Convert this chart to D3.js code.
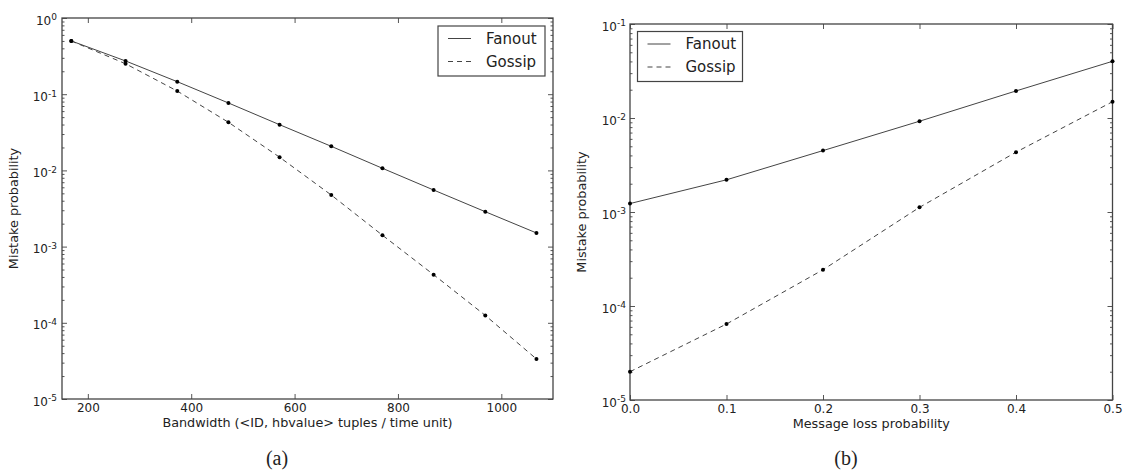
<!DOCTYPE html>
<html>
<head>
<meta charset="utf-8">
<script src="https://cdn.jsdelivr.net/npm/d3@7"></script>
<style>
  body { margin: 0; background: #fff; }
  text { font-family: "DejaVu Sans", sans-serif; fill: #222; }
  .domain { stroke: #444; }
  .tick line { stroke: #555; }
</style>
</head>
<body>
<div id="graph"></div>
<script>
// panel (a): bandwidth vs mistake probability
const bandwidth = [168, 273, 373, 472, 571, 671, 770, 869, 969, 1068];
const fanoutA = [0.5, 0.273, 0.146, 0.0767, 0.0398, 0.0207, 0.01066, 0.00553, 0.00287, 0.00151];
const gossipA = [0.5, 0.251, 0.110, 0.0428, 0.0149, 0.00475, 0.00141, 0.000428, 0.000125, 0.0000335];
const xTicksA = [200, 400, 600, 800, 1000];

// panel (b): message loss vs mistake probability
const lossProb = [0.0, 0.1, 0.2, 0.3, 0.4, 0.5];
const fanoutB = [0.00123, 0.0022, 0.0045, 0.00924, 0.0194, 0.0401];
const gossipB = [0.00002, 0.0000643, 0.000243, 0.00112, 0.00433, 0.0149];
const xTicksB = [0.0, 0.1, 0.2, 0.3, 0.4, 0.5];

const seriesNames = ["Fanout", "Gossip"];

let width = 1123, height = 475;
let svg = d3.select("#graph").append("svg").attr("width", width).attr("height", height);

function drawPanel(cfg) {
  let x = d3.scaleLinear().domain(cfg.xDomain).range([cfg.left, cfg.right]);
  let y = d3.scaleLog().domain(cfg.yDomain).range([cfg.bottom, cfg.top]);
  let g = svg.append("g");

  // minor log ticks
  let lo = Math.round(Math.log10(cfg.yDomain[0])), hi = Math.round(Math.log10(cfg.yDomain[1]));
  let major = d3.range(lo, hi + 1).map(e => Math.pow(10, e));
  let minor = [];
  d3.range(lo, hi).forEach(e => { for (let m = 2; m < 10; m++) minor.push(m * Math.pow(10, e)); });

  g.append("g").attr("transform", "translate(" + cfg.left + ",0)")
    .call(d3.axisLeft(y).tickValues(minor).tickSize(-2.5).tickFormat(""))
    .call(s => s.select(".domain").remove());
  g.append("g").attr("transform", "translate(" + cfg.right + ",0)")
    .call(d3.axisRight(y).tickValues(minor).tickSize(-2.5).tickFormat(""))
    .call(s => s.select(".domain").remove());
  g.append("g").attr("transform", "translate(" + cfg.right + ",0)")
    .call(d3.axisRight(y).tickValues(major).tickSize(-5).tickFormat(""))
    .call(s => s.select(".domain").remove());

  let yAx = g.append("g").attr("transform", "translate(" + cfg.left + ",0)")
    .call(d3.axisLeft(y).tickValues(major).tickSize(-5).tickPadding(cfg.yPad).tickFormat(""));
  yAx.select(".domain").remove();
  yAx.selectAll(".tick").each(function(d) {
    let e = Math.round(Math.log10(d));
    let t = d3.select(this).select("text").attr("font-size", 12).attr("dy", "0.5em");
    t.append("tspan").text("10");
    t.append("tspan").attr("dy", "-0.45em").attr("font-size", 9).text(e === 0 ? "0" : "-" + Math.abs(e));
  });

  // x axes
  let xAx = g.append("g").attr("transform", "translate(0," + cfg.bottom + ")")
    .call(d3.axisBottom(x).tickValues(cfg.xTicks).tickSize(-5).tickPadding(4).tickFormat(cfg.xFormat));
  xAx.select(".domain").remove();
  xAx.selectAll("text").attr("font-size", 12);
  g.append("g").attr("transform", "translate(0," + cfg.top + ")")
    .call(d3.axisTop(x).tickValues(cfg.xTicks).tickSize(-5).tickFormat(""))
    .call(s => s.select(".domain").remove());

  // frame
  g.append("rect").attr("x", cfg.left).attr("y", cfg.top)
    .attr("width", cfg.right - cfg.left).attr("height", cfg.bottom - cfg.top)
    .attr("fill", "none").attr("stroke", "#444").attr("stroke-width", 1.3);

  // lines
  let line = d3.line().x(d => x(d[0])).y(d => y(d[1]));
  let dashes = [null, "5,4"];
  [cfg.fanout, cfg.gossip].forEach((vals, i) => {
    let pts = cfg.xs.map((v, j) => [v, vals[j]]);
    g.append("path").datum(pts).attr("d", line)
      .attr("fill", "none").attr("stroke", "#444").attr("stroke-width", 1)
      .attr("stroke-dasharray", dashes[i]);
    g.selectAll(null).data(pts).enter().append("circle")
      .attr("cx", d => x(d[0])).attr("cy", d => y(d[1])).attr("r", 2).attr("fill", "#000");
  });

  // titles
  g.append("text").attr("x", (cfg.left + cfg.right) / 2).attr("y", cfg.bottom + 28)
    .attr("text-anchor", "middle").attr("font-size", 12.8).text(cfg.xTitle);
  g.append("text").attr("transform", "translate(" + cfg.yTitleX + "," + (cfg.top + cfg.bottom) / 2 + ") rotate(-90)")
    .attr("text-anchor", "middle").attr("font-size", 12.8).text("Mistake probability");
  g.append("text").attr("x", cfg.capX).attr("y", 465).attr("text-anchor", "middle")
    .style("font-family", "'Liberation Serif', 'Times New Roman', serif").attr("font-size", 20).text(cfg.caption);

  // legend
  let lg = g.append("g").attr("transform", "translate(" + cfg.legX + "," + cfg.legY + ")");
  lg.append("rect").attr("width", cfg.legW).attr("height", 50)
    .attr("fill", "#fff").attr("stroke", "#444").attr("stroke-width", 1.2);
  seriesNames.forEach((name, i) => {
    let ly = 12.5 + i * 23;
    lg.append("line").attr("x1", 10).attr("x2", 33).attr("y1", ly).attr("y2", ly)
      .attr("stroke", "#444").attr("stroke-width", 1).attr("stroke-dasharray", dashes[i]);
    lg.append("text").attr("x", 48).attr("y", ly).attr("dy", "0.36em").attr("font-size", 15).text(name);
  });
}

drawPanel({
  xs: bandwidth, fanout: fanoutA, gossip: gossipA, xTicks: xTicksA,
  xDomain: [150, 1100], yDomain: [1e-5, 1],
  left: 62, right: 553, top: 18, bottom: 399, yPad: 5,
  xFormat: d3.format("d"),
  xTitle: "Bandwidth (<ID, hbvalue> tuples / time unit)", yTitleX: 18,
  caption: "(a)", capX: 277,
  legX: 438, legY: 26, legW: 107
});

drawPanel({
  xs: lossProb, fanout: fanoutB, gossip: gossipB, xTicks: xTicksB,
  xDomain: [0, 0.5], yDomain: [1e-5, 1e-1],
  left: 630, right: 1112.5, top: 24, bottom: 400, yPad: 4,
  xFormat: d3.format(".1f"),
  xTitle: "Message loss probability", yTitleX: 586,
  caption: "(b)", capX: 846,
  legX: 637.5, legY: 31.5, legW: 105
});
</script>
</body>
</html>
